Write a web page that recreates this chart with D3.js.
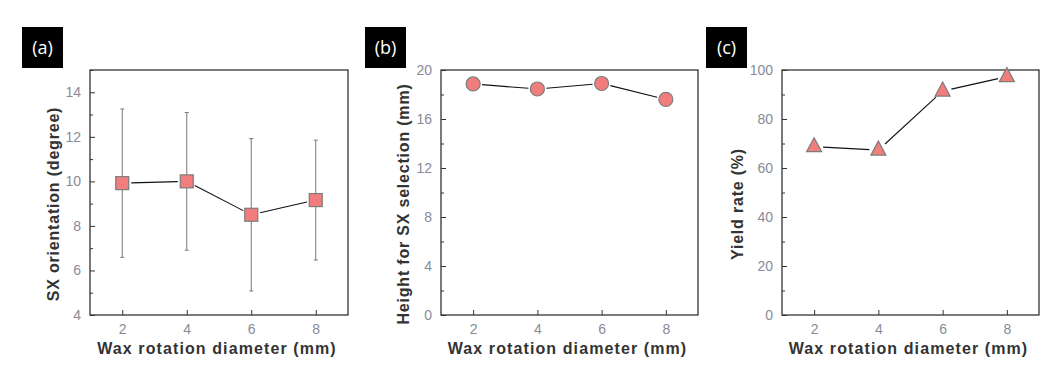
<!DOCTYPE html>
<html><head><meta charset="utf-8">
<script src="https://cdn.jsdelivr.net/npm/d3@7/dist/d3.min.js"></script>
<style>body{margin:0;background:#fff}svg{display:block}</style>
</head><body>
<script>
const diameters = [2, 4, 6, 8];
const xTicks = [2, 4, 6, 8];
// (a) SX orientation (degree) with error bars
const orientation = [9.92, 10.0, 8.5, 9.16];
const orientationErr = [3.33, 3.09, 3.42, 2.69];
const orientationTicks = [4, 6, 8, 10, 12, 14];
// (b) Height for SX selection (mm)
const heightSX = [18.86, 18.45, 18.9, 17.6];
const heightTicks = [0, 4, 8, 12, 16, 20];
// (c) Yield rate (%)
const yieldRate = [68.7, 67.3, 91.4, 97.3];
const yieldTicks = [0, 20, 40, 60, 80, 100];

const panels = [
  {tag: "(a)", left: 90, right: 348, yDom: [4, 15], ticks: orientationTicks, minor: 1, vals: orientation, err: orientationErr,
   shape: "square", ylab: "SX orientation (degree)", ylabX: 53, boxX: 22},
  {tag: "(b)", left: 441, right: 698, yDom: [0, 20], ticks: heightTicks, minor: 2, vals: heightSX, err: null,
   shape: "circle", ylab: "Height for SX selection (mm)", ylabX: 403, boxX: 365},
  {tag: "(c)", left: 782, right: 1039, yDom: [0, 100], ticks: yieldTicks, minor: 10, vals: yieldRate, err: null,
   shape: "triangle", ylab: "Yield rate (%)", ylabX: 737, boxX: 706}
];

const W = 1063, H = 376, plotTop = 70, plotBottom = 315;
const svg = d3.select("body").append("svg").attr("width", W).attr("height", H);
const fillC = "#f27d7d", strokeC = "#7c7c7c", tickC = "#878b96";
const font = "'Liberation Sans', Arial, sans-serif";

panels.forEach(p => {
  const g = svg.append("g");
  const x = d3.scaleLinear().domain([1, 9]).range([p.left, p.right]);
  const y = d3.scaleLinear().domain(p.yDom).range([plotBottom, plotTop]);

  // panel tag box
  g.append("rect").attr("x", p.boxX).attr("y", 27).attr("width", 41).attr("height", 41).attr("fill", "#000");
  g.append("text").attr("x", p.boxX + 20.5).attr("y", 54).attr("text-anchor", "middle")
    .attr("fill", "#fff").attr("font-family", "'Open Sans', 'DejaVu Sans', sans-serif").attr("font-size", 18).text(p.tag);

  // frame
  g.append("rect").attr("x", p.left).attr("y", plotTop).attr("width", p.right - p.left).attr("height", plotBottom - plotTop)
    .attr("fill", "none").attr("stroke", "#222").attr("stroke-width", 1.2);

  // y axis (ticks inward)
  const minorVals = d3.range(p.yDom[0], p.yDom[1] + 1e-9, p.minor).filter(v => !p.ticks.includes(v));
  const yAxisMinor = d3.axisLeft(y).tickValues(minorVals).tickSize(-3).tickFormat("");
  const yAxis = d3.axisLeft(y).tickValues(p.ticks).tickSize(-5).tickPadding(9);
  const ya = g.append("g").attr("transform", `translate(${p.left},0)`).call(yAxis);
  const yam = g.append("g").attr("transform", `translate(${p.left},0)`).call(yAxisMinor);
  [ya, yam].forEach(a => { a.select(".domain").remove(); a.selectAll("line").attr("stroke", "#333"); });
  ya.selectAll("text").attr("fill", tickC).attr("font-family", font).attr("font-size", 14);

  // x axis
  const xAxis = d3.axisBottom(x).tickValues(xTicks).tickSize(-5).tickPadding(9);
  const xa = g.append("g").attr("transform", `translate(0,${plotBottom})`).call(xAxis);
  xa.select(".domain").remove();
  xa.selectAll("line").attr("stroke", "#333");
  xa.selectAll("text").attr("fill", tickC).attr("font-family", font).attr("font-size", 14);

  // axis titles
  g.append("text").attr("x", (p.left + p.right) / 2 - 2).attr("y", 354).attr("text-anchor", "middle")
    .attr("font-family", font).attr("font-weight", "bold").attr("font-size", 16).attr("fill", "#333")
    .attr("letter-spacing", 1.1).text("Wax rotation diameter (mm)");
  g.append("text").attr("transform", `translate(${p.ylabX + 6},204) rotate(-90)`).attr("text-anchor", "middle")
    .attr("font-family", font).attr("font-weight", "bold").attr("font-size", 16).attr("fill", "#333")
    .attr("letter-spacing", 0.8).text(p.ylab);

  const pts = diameters.map((d, i) => [x(d), y(p.vals[i])]);

  // error bars
  if (p.err) {
    diameters.forEach((d, i) => {
      const y1 = y(p.vals[i] + p.err[i]), y2 = y(p.vals[i] - p.err[i]), cx = x(d);
      g.append("line").attr("x1", cx).attr("x2", cx).attr("y1", y1).attr("y2", y2).attr("stroke", "#777").attr("stroke-width", 1);
      [y1, y2].forEach(yy => g.append("line").attr("x1", cx - 2).attr("x2", cx + 2).attr("y1", yy).attr("y2", yy)
        .attr("stroke", "#777").attr("stroke-width", 1));
    });
  }

  // connecting line segments with small gaps near markers
  const gap = 9;
  for (let i = 0; i < pts.length - 1; i++) {
    const [x1, y1] = pts[i], [x2, y2] = pts[i + 1];
    const L = Math.hypot(x2 - x1, y2 - y1), ux = (x2 - x1) / L, uy = (y2 - y1) / L;
    g.append("line").attr("x1", x1 + ux * gap).attr("y1", y1 + uy * gap)
      .attr("x2", x2 - ux * gap).attr("y2", y2 - uy * gap).attr("stroke", "#111").attr("stroke-width", 1.1);
  }

  // markers
  pts.forEach(([cx, cy]) => {
    if (p.shape === "square") {
      g.append("rect").attr("x", cx - 6.5).attr("y", cy - 6.5).attr("width", 13).attr("height", 13)
        .attr("fill", fillC).attr("stroke", strokeC).attr("stroke-width", 1.2);
    } else if (p.shape === "circle") {
      g.append("circle").attr("cx", cx).attr("cy", cy).attr("r", 7)
        .attr("fill", fillC).attr("stroke", strokeC).attr("stroke-width", 1.2);
    } else {
      g.append("path").attr("d", `M${cx},${cy - 9}L${cx + 7.5},${cy + 5}L${cx - 7.5},${cy + 5}Z`)
        .attr("fill", fillC).attr("stroke", strokeC).attr("stroke-width", 1.2);
    }
  });
});
</script>
</body></html>
